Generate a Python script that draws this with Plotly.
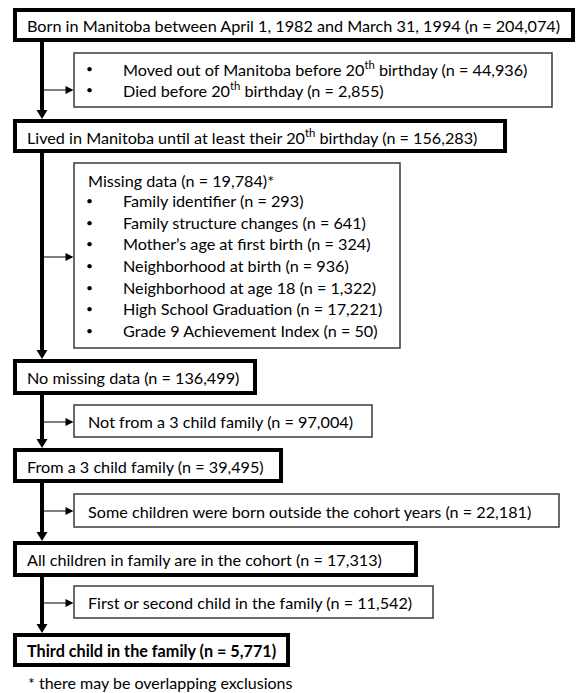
import plotly.graph_objects as go

# ---------------- data ----------------
main_labels = [
    "Born in Manitoba between April 1, 1982 and March 31, 1994",
    "Lived in Manitoba until at least their 20<sup>th</sup> birthday",
    "No missing data",
    "From a 3 child family",
    "All children in family are in the cohort",
    "Third child in the family",
]
main_n = [204074, 156283, 136499, 39495, 17313, 5771]

early_exit_labels = [
    "Moved out of Manitoba before 20<sup>th</sup> birthday",
    "Died before 20<sup>th</sup> birthday",
]
early_exit_n = [44936, 2855]

missing_title = "Missing data"
missing_total = 19784
missing_labels = [
    "Family identifier",
    "Family structure changes",
    "Mother’s age at first birth",
    "Neighborhood at birth",
    "Neighborhood at age 18",
    "High School Graduation",
    "Grade 9 Achievement Index",
]
missing_n = [293, 641, 324, 936, 1322, 17221, 50]

other_exit_labels = [
    "Not from a 3 child family",
    "Some children were born outside the cohort years",
    "First or second child in the family",
]
other_exit_n = [97004, 22181, 11542]

footnote = "* there may be overlapping exclusions"

# ---------------- layout geometry (page pixels) ----------------
W, H = 577, 693
FONT = "Lato"
FS = 16.2
main_left = 15
main_box_y = [(10, 40), (121, 151), (361, 393), (450, 481), (543, 575), (635, 665)]
main_box_right = [573, 505, 255, 281, 416, 288]
main_text_x = 25
spine_x = 42

side_left = 74
side_box_y = [(53, 107), (163, 348), (405, 437), (494, 527), (586, 618)]
side_box_right = [552, 400, 372, 559, 433]
branch_y = [90, 257, 422, 511, 603]
bullet_x = 84
item_x = 121
side_text_x = 86

early_line_y = [68, 89]
missing_title_y = 180
missing_line_y = [200, 222, 243, 265, 287, 308, 330]
footnote_x = 26
footnote_y = 682

shapes = []
annotations = []


def fmt(n):
    return f"{n:,}"


def text(x, y, s, size=FS, bold=False):
    if bold:
        s = f"<b>{s}</b>"
    annotations.append(dict(
        x=x, y=y, xref="x", yref="y", text=s, showarrow=False,
        xanchor="left", yanchor="middle",
        font=dict(family=FONT, size=size, color="#000000"),
    ))


# main boxes
for i, (lab, n) in enumerate(zip(main_labels, main_n)):
    y0, y1 = main_box_y[i]
    shapes.append(dict(type="rect", xref="x", yref="y",
                       x0=main_left, x1=main_box_right[i], y0=y0, y1=y1,
                       line=dict(color="#000000", width=4), fillcolor="white"))
    text(main_text_x, (y0 + y1) / 2 + 0.5, f"{lab} (n = {fmt(n)})",
         bold=(i == len(main_labels) - 1))

# spine segments with arrowheads
for i in range(len(main_labels) - 1):
    top = main_box_y[i][1] + 2
    bot = main_box_y[i + 1][0] - 2
    shapes.append(dict(type="line", xref="x", yref="y",
                       x0=spine_x, x1=spine_x, y0=top, y1=bot - 6,
                       line=dict(color="#000000", width=4)))
    shapes.append(dict(type="path", xref="x", yref="y",
                       path=f"M {spine_x-5.5},{bot-9} L {spine_x+5.5},{bot-9} L {spine_x},{bot} Z",
                       line=dict(color="#000000", width=0), fillcolor="#000000"))

# side boxes + branch arrows
for i in range(len(side_box_y)):
    y0, y1 = side_box_y[i]
    shapes.append(dict(type="rect", xref="x", yref="y",
                       x0=side_left, x1=side_box_right[i], y0=y0, y1=y1,
                       line=dict(color="#3a3a3a", width=1.5), fillcolor="white"))
    by = branch_y[i]
    shapes.append(dict(type="line", xref="x", yref="y",
                       x0=spine_x + 2, x1=side_left - 7, y0=by, y1=by,
                       line=dict(color="#3a3a3a", width=1.3)))
    shapes.append(dict(type="path", xref="x", yref="y",
                       path=f"M {side_left-8.5},{by-4} L {side_left-8.5},{by+4} L {side_left-0.5},{by} Z",
                       line=dict(color="#000000", width=0), fillcolor="#000000"))

# texts in side boxes
for lab, n, y in zip(early_exit_labels, early_exit_n, early_line_y):
    text(bullet_x, y, "•", size=12)
    text(item_x, y, f"{lab} (n = {fmt(n)})")

text(side_text_x, missing_title_y, f"{missing_title} (n = {fmt(missing_total)})*")
for lab, n, y in zip(missing_labels, missing_n, missing_line_y):
    text(bullet_x, y, "•", size=12)
    text(item_x, y, f"{lab} (n = {fmt(n)})")

for i, (lab, n) in enumerate(zip(other_exit_labels, other_exit_n)):
    y0, y1 = side_box_y[i + 2]
    text(side_text_x, (y0 + y1) / 2 + 0.5, f"{lab} (n = {fmt(n)})")

text(footnote_x, footnote_y, footnote, size=16)

fig = go.Figure()
fig.update_layout(
    width=W, height=H,
    margin=dict(l=0, r=0, t=0, b=0),
    paper_bgcolor="white", plot_bgcolor="white",
    xaxis=dict(range=[0, W], visible=False, fixedrange=True),
    yaxis=dict(range=[H, 0], visible=False, fixedrange=True),
    shapes=shapes, annotations=annotations, showlegend=False,
)
# remove the page's default 8px body margin so the figure fills the window
fig.write_html(
    "out.html",
    config={"displayModeBar": False},
    post_script="document.body.style.margin='0px';document.body.style.overflow='hidden';",
)
